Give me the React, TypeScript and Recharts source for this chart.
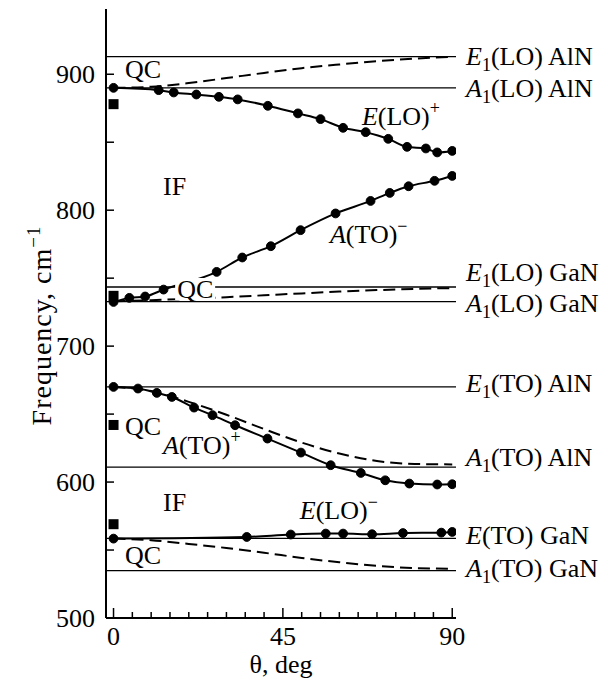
import React from "react";
import { ComposedChart, Line, Scatter, XAxis, YAxis, ReferenceLine, ReferenceDot } from "recharts";

const FONT = '"Liberation Serif", "Times New Roman", serif';
const FS = 26;

// E(LO)+ branch (measured)
const eloPlusTheta = [0, 12, 16, 22, 28, 33, 41, 49, 55, 61, 67, 73, 78, 83, 86, 90];
const eloPlusFreq = [890, 888.3, 886.6, 885.1, 883.4, 881.5, 876.8, 871.2, 867.0, 860.6, 857.4, 852.5, 846.6, 845.4, 842.5, 843.6];

// A(TO)- branch
const atoMinusTheta = [0, 4.2, 8.4, 13.3, 27.4, 34.2, 41.8, 49.7, 59.0, 68.3, 73.4, 78.4, 85.3, 90];
const atoMinusFreq = [732.5, 735.5, 736.5, 741.6, 754.6, 765.2, 773.5, 785.3, 797.6, 806.8, 812.7, 817.6, 821.6, 825.2];

// A(TO)+ branch
const atoPlusTheta = [0, 6.5, 11.5, 15.5, 21.4, 26.3, 32.3, 40.9, 49.8, 57.7, 65.7, 72.2, 78.6, 86.0, 90];
const atoPlusFreq = [670.0, 668.8, 665.6, 662.6, 654.8, 649.2, 641.8, 632.0, 621.7, 612.4, 606.7, 601.3, 598.9, 598.2, 598.4];

// E(LO)- branch
const eloMinusTheta = [0, 35.4, 47.1, 56.4, 61.0, 68.7, 76.9, 87.1, 90];
const eloMinusFreq = [558.4, 559.6, 561.4, 562.1, 562.1, 561.6, 562.5, 562.8, 563.3];

// QC modes (dashed curves)
const qcTheta = [0, 10, 20, 30, 40, 50, 60, 70, 80, 90];
const qcTopFreq = [890, 890.8, 893.5, 897.2, 901, 904.5, 907.2, 909.6, 911.5, 912.8];
const qcMidFreq = [733, 733.8, 734.8, 736, 737.4, 738.8, 740.1, 741.2, 742.1, 742.7];
const qcAtoFreq = [670, 667, 659, 649.5, 639, 629, 621, 615.5, 613.3, 613];
const qcBotFreq = [558.5, 557.2, 554.5, 551.5, 548, 544.2, 541, 538.3, 536.7, 536.2];

// filled squares at theta = 0
const squareFreq = [878, 737, 642, 569];

// bulk phonon frequencies
const bulkNames = ["E1(LO) AlN", "A1(LO) AlN", "E1(LO) GaN", "A1(LO) GaN", "E1(TO) AlN", "A1(TO) AlN", "E(TO) GaN", "A1(TO) GaN"];
const bulkFreq = [913, 890, 743.5, 732.7, 670, 611, 558.6, 534.8];

const xTicks = [0, 5, 10, 15, 20, 25, 30, 35, 40, 45, 50, 55, 60, 65, 70, 75, 80, 85, 90];
const xLabelTicks = [0, 45, 90];
const yTicks = [500, 550, 600, 650, 700, 750, 800, 850, 900];
const yLabelTicks = [500, 600, 700, 800, 900];

const pts = (xs: number[], ys: number[]) => xs.map((x, i) => ({ x, y: ys[i] }));

// label nudges (px) so close pairs don't collide
const bulkLabelDy = [2, 3, -12, 4, -1, -7, 0, 0];

const annotations = [
  { x: 3.05, y: 897.2, text: "QC" },
  { x: 13.15, y: 811, text: "IF" },
  { x: 57.5, y: 775.9, it: "A", text: "(TO)", sup: "\u2212" },
  { x: 16.9, y: 735.4, text: "QC", bg: true },
  { x: 66, y: 862.6, it: "E", text: "(LO)", sup: "+" },
  { x: 3.05, y: 634.6, text: "QC" },
  { x: 13.15, y: 620.6, it: "A", text: "(TO)", sup: "+" },
  { x: 13.15, y: 578.5, text: "IF" },
  { x: 49.5, y: 573, it: "E", text: "(LO)", sup: "\u2212" },
  { x: 3.05, y: 539.7, text: "QC" },
];

const frame = { stroke: "#000", strokeWidth: 2 };

const XTick = (props: any) => {
  const { x, y, payload } = props;
  const major = xLabelTicks.includes(payload.value);
  return (
    <g>
      <line x1={x} x2={x} y1={y} y2={y - (major ? 10 : 6)} stroke="#000" strokeWidth={1.5} />
      {major && (
        <text x={x} y={y + 9} dy="0.71em" textAnchor="middle" fontFamily={FONT} fontSize={FS} fill="#000">
          {payload.value}
        </text>
      )}
    </g>
  );
};

const YTickLeft = (props: any) => {
  const { x, y, payload } = props;
  return (
    <g>
      <line x1={x} x2={x + 8} y1={y} y2={y} stroke="#000" strokeWidth={1.5} />
      {yLabelTicks.includes(payload.value) && (
        <text x={x - 11} y={y} dy="0.34em" textAnchor="end" fontFamily={FONT} fontSize={FS} fill="#000">
          {payload.value}
        </text>
      )}
    </g>
  );
};

const YTickRight = (props: any) => {
  const { x, y } = props;
  return <line x1={x} x2={x - 8} y1={y} y2={y} stroke="#000" strokeWidth={1.5} />;
};

const XTitle = (props: any) => {
  const { x, y, width, height } = props.viewBox;
  return (
    <text x={x + width / 2} y={y + height - 13} textAnchor="middle" fontFamily={FONT} fontSize={FS} fill="#000">
      θ, deg
    </text>
  );
};

const YTitle = (props: any) => {
  const { x, y, height } = props.viewBox;
  const cx = x + 5;
  const cy = y + height / 2 + 12;
  return (
    <text
      transform={`translate(${cx},${cy}) rotate(-90)`}
      textAnchor="middle"
      fontFamily={FONT}
      fontSize={28}
      letterSpacing={1}
      fill="#000"
    >
      Frequency, cm
      <tspan dy={-11} fontSize={19}>
        {"\u22121"}
      </tspan>
    </text>
  );
};

const ModeLabel = (props: any) => {
  const { viewBox, name, dy } = props;
  const m = name.match(/^([EA])(1?)(.*)$/);
  const x = viewBox.x + viewBox.width + 10;
  const y = viewBox.y + dy + 6;
  return (
    <text x={x} y={y} fontFamily={FONT} fontSize={FS} fill="#000">
      <tspan fontStyle="italic">{m[1]}</tspan>
      {m[2] && (
        <tspan fontSize={18} dy={6}>
          {m[2]}
        </tspan>
      )}
      <tspan dy={m[2] ? -6 : 0}>{m[3]}</tspan>
    </text>
  );
};

const Annotation = (props: any) => {
  const { viewBox, a } = props;
  const x = viewBox.x;
  const y = viewBox.y;
  return (
    <g>
      {a.bg && <rect x={x - 2} y={y - 20} width={40} height={22} fill="#fff" />}
      <text x={x} y={y} fontFamily={FONT} fontSize={FS} fill="#000">
        {a.it && <tspan fontStyle="italic">{a.it}</tspan>}
        <tspan>{a.text}</tspan>
        {a.sup && (
          <tspan fontSize={18} dy={-11}>
            {a.sup}
          </tspan>
        )}
      </text>
    </g>
  );
};

const Square = (props: any) => {
  const { cx, cy } = props;
  return <rect x={cx - 5} y={cy - 5} width={10} height={10} fill="#000" />;
};

const dotStyle = { r: 4.4, fill: "#000", stroke: "#000", strokeWidth: 1 };

export default function App() {
  return (
    <div style={{ position: "absolute", left: 0, top: 0, width: 608, height: 686, background: "#fff" }}>
      <ComposedChart width={608} height={686} margin={{ top: 9, right: 152, bottom: 0, left: 46 }}>
        <XAxis
          type="number"
          dataKey="x"
          domain={[-2, 91]}
          ticks={xTicks}
          interval={0}
          tickSize={0}
          tickMargin={0}
          tickLine={false}
          tick={XTick}
          axisLine={frame}
          height={68}
          allowDataOverflow
          label={{ content: XTitle }}
        />
        <XAxis
          xAxisId="top"
          orientation="top"
          type="number"
          domain={[-2, 91]}
          height={0}
          tick={false}
          tickLine={false}
          axisLine={frame}
          allowDataOverflow
        />
        <YAxis
          type="number"
          domain={[500, 948]}
          ticks={yTicks}
          interval={0}
          tickSize={0}
          tickMargin={0}
          tickLine={false}
          tick={YTickLeft}
          axisLine={frame}
          width={60}
          allowDataOverflow
          label={{ content: YTitle }}
        />
        <YAxis
          yAxisId="right"
          orientation="right"
          type="number"
          domain={[500, 948]}
          ticks={yTicks}
          interval={0}
          tickSize={0}
          tickMargin={0}
          tickLine={false}
          tick={YTickRight}
          axisLine={frame}
          width={0}
          allowDataOverflow
        />

        {bulkFreq.map((f, i) => (
          <ReferenceLine
            key={bulkNames[i]}
            y={f}
            stroke="#000"
            strokeWidth={1.3}
            label={(p: any) => <ModeLabel {...p} name={bulkNames[i]} dy={bulkLabelDy[i]} />}
          />
        ))}

        {[qcTopFreq, qcMidFreq, qcAtoFreq, qcBotFreq].map((f, i) => (
          <Line
            key={`qc${i}`}
            data={pts(qcTheta, f)}
            dataKey="y"
            type="monotone"
            stroke="#000"
            strokeWidth={2}
            strokeDasharray="12 6"
            dot={false}
            isAnimationActive={false}
          />
        ))}

        <Line data={pts(eloPlusTheta, eloPlusFreq)} dataKey="y" type="monotone" stroke="#000" strokeWidth={2} dot={dotStyle} isAnimationActive={false} />
        <Line data={pts(atoMinusTheta, atoMinusFreq)} dataKey="y" type="monotone" stroke="#000" strokeWidth={2} dot={dotStyle} isAnimationActive={false} />
        <Line data={pts(atoPlusTheta, atoPlusFreq)} dataKey="y" type="monotone" stroke="#000" strokeWidth={2} dot={dotStyle} isAnimationActive={false} />
        <Line data={pts(eloMinusTheta, eloMinusFreq)} dataKey="y" type="monotone" stroke="#000" strokeWidth={2} dot={dotStyle} isAnimationActive={false} />

        <Scatter data={squareFreq.map((y) => ({ x: 0, y }))} dataKey="y" shape={Square} isAnimationActive={false} />

        {annotations.map((a, i) => (
          <ReferenceDot
            key={`ann${i}`}
            x={a.x}
            y={a.y}
            r={0}
            fill="none"
            stroke="none"
            label={(p: any) => <Annotation {...p} a={a} />}
          />
        ))}
      </ComposedChart>
    </div>
  );
}
